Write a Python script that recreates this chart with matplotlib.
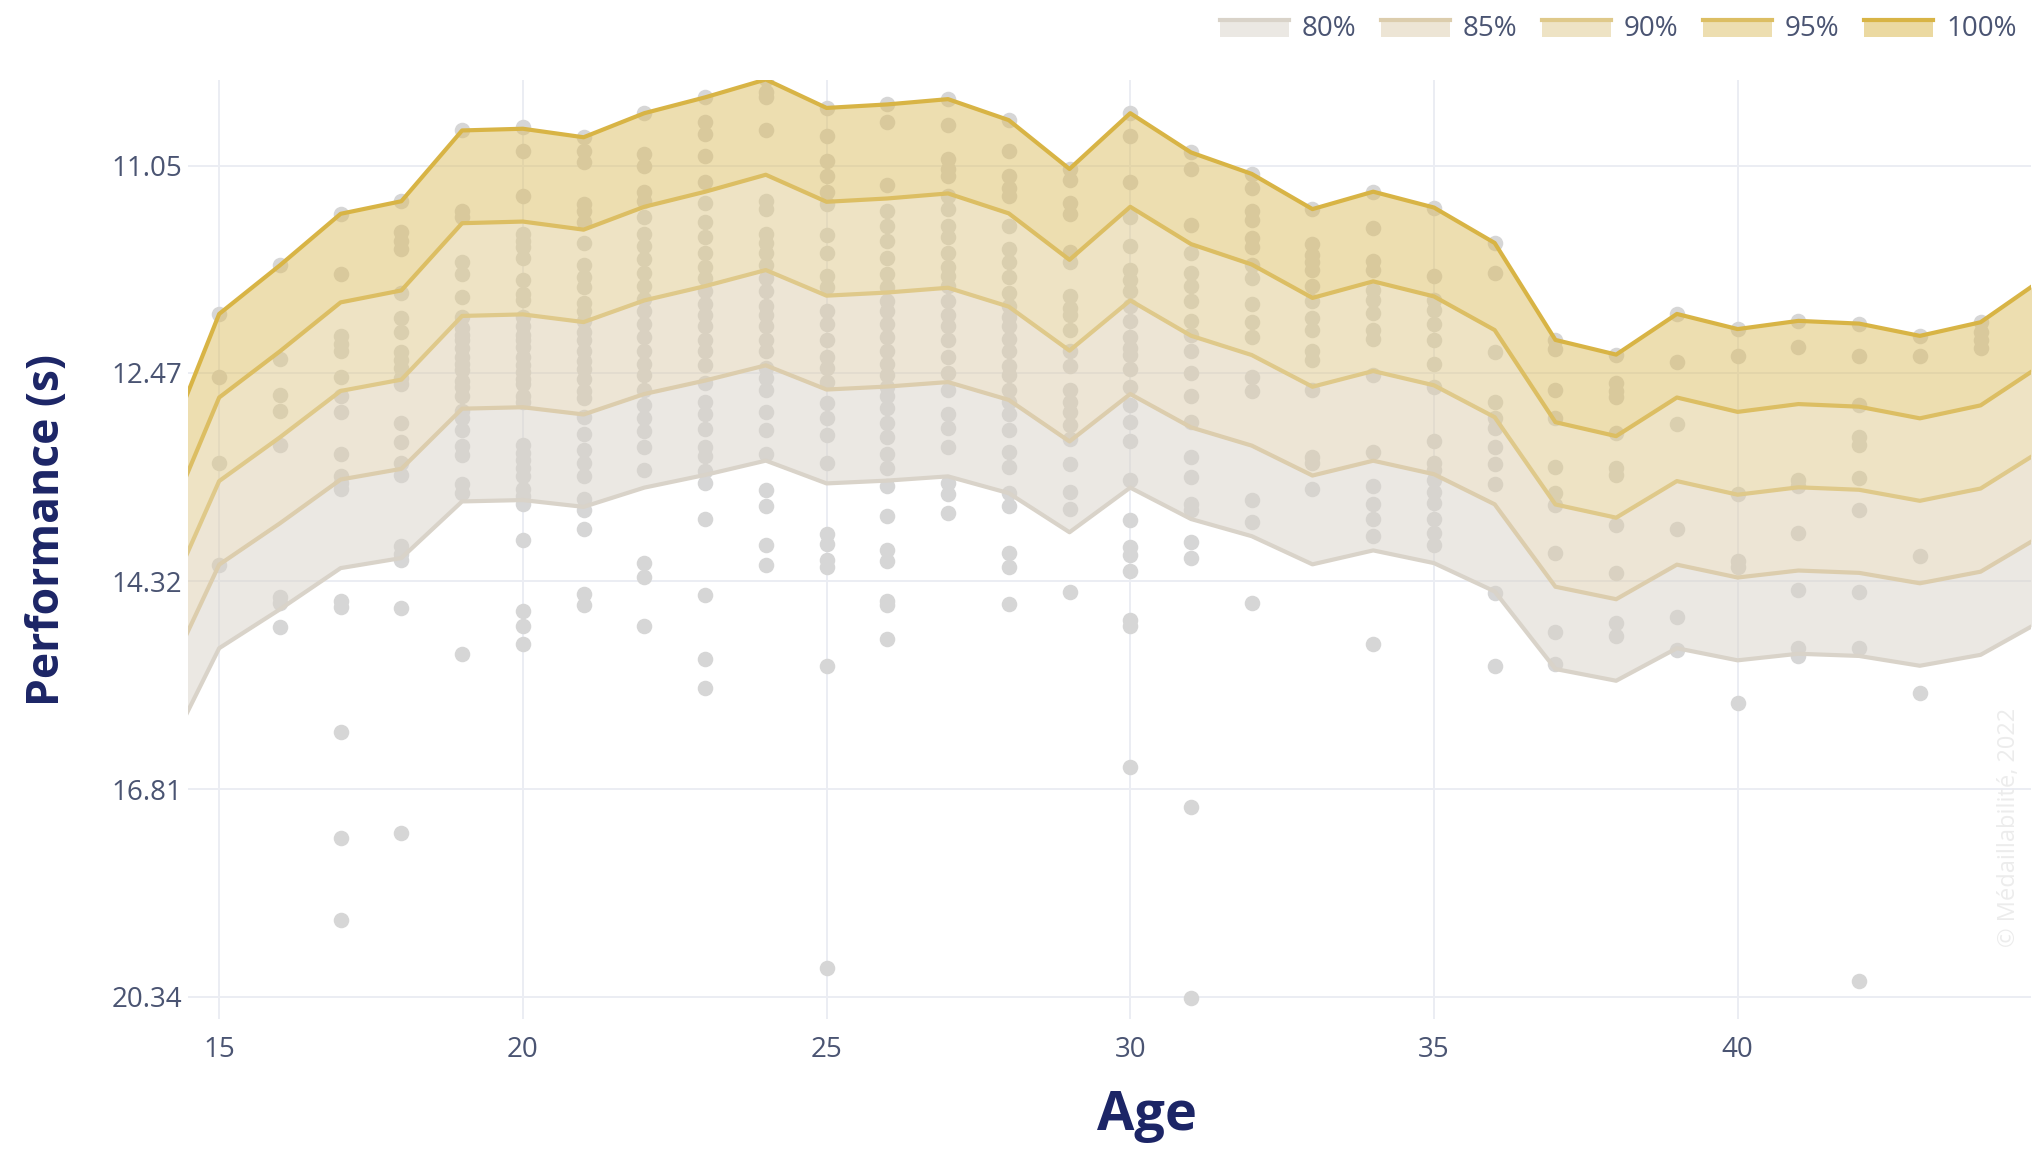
import numpy as np
import matplotlib.pyplot as plt
from matplotlib.patches import Rectangle
from matplotlib.lines import Line2D

plt.rcParams['font.family'] = ['Open Sans', 'DejaVu Sans']

# Meilleure performance (ligne 100 %) par âge, en secondes
ages = list(range(14, 46))
best_times = [13.24, 12.03, 11.69, 11.35, 11.27, 10.84, 10.83, 10.88, 10.74, 10.65,
              10.55, 10.71, 10.69, 10.66, 10.78, 11.07, 10.74, 10.97, 11.10, 11.32,
              11.21, 11.31, 11.54, 12.22, 12.33, 12.03, 12.14, 12.08, 12.10, 12.19,
              12.09, 11.79]

# Niveaux de performance (% de la meilleure vitesse)
levels = [80, 85, 90, 95, 100]
level_labels = ['80%', '85%', '90%', '95%', '100%']
level_colors = ['#d9d3c9', '#dccdad', '#dfc98a', '#dcbe63', '#d8b445']

# Axe des performances (s)
ytick_times = [11.05, 12.47, 14.32, 16.81, 20.34]
xtick_ages = [15, 20, 25, 30, 35, 40]

# Performances individuelles par âge (s)
performances = {
    15: [12.03, 12.50, 13.21, 14.16],
    16: [11.69, 12.36, 12.64, 12.77, 13.05, 14.48, 14.55, 14.80],
    17: [11.35, 11.75, 12.19, 12.25, 12.30, 12.50, 12.65, 12.78, 13.13, 13.32, 13.38,
         13.44, 14.52, 14.59, 16.04, 17.53, 18.88],
    18: [11.27, 11.47, 11.53, 11.58, 11.88, 12.06, 12.16, 12.31, 12.37, 12.43, 12.51,
         12.56, 12.87, 13.03, 13.21, 13.31, 13.97, 14.05, 14.11, 14.60, 17.45],
    19: [10.84, 11.33, 11.37, 11.67, 11.75, 11.91, 12.05, 12.13, 12.18, 12.22, 12.28,
         12.35, 12.40, 12.45, 12.53, 12.58, 12.65, 12.77, 12.83, 12.93, 13.06, 13.14,
         13.39, 13.47, 15.10],
    20: [10.82, 10.96, 11.24, 11.48, 11.53, 11.57, 11.64, 11.79, 11.89, 11.93, 12.05,
         12.12, 12.18, 12.22, 12.27, 12.35, 12.41, 12.46, 12.52, 12.56, 12.65, 12.70,
         13.05, 13.12, 13.18, 13.25, 13.32, 13.44, 13.50, 13.57, 13.91, 14.63, 14.79,
         14.99],
    21: [10.88, 10.96, 11.03, 11.29, 11.33, 11.40, 11.54, 11.69, 11.77, 11.84, 11.95,
         12.01, 12.08, 12.16, 12.22, 12.30, 12.38, 12.44, 12.52, 12.61, 12.67, 12.82,
         12.96, 13.10, 13.21, 13.32, 13.53, 13.63, 13.81, 14.45, 14.57],
    22: [10.74, 10.98, 11.05, 11.21, 11.27, 11.37, 11.48, 11.56, 11.65, 11.74, 11.83,
         11.92, 12.01, 12.10, 12.20, 12.30, 12.40, 12.49, 12.60, 12.72, 12.83, 12.94,
         13.07, 13.27, 14.14, 14.28, 14.79],
    23: [10.65, 10.79, 10.86, 10.99, 11.15, 11.28, 11.40, 11.50, 11.61, 11.70, 11.78,
         11.87, 11.96, 12.04, 12.12, 12.22, 12.30, 12.41, 12.55, 12.70, 12.80, 12.92,
         13.07, 13.15, 13.28, 13.38, 13.71, 14.46, 15.16, 15.50],
    24: [10.55, 10.62, 10.65, 10.84, 11.27, 11.32, 11.48, 11.54, 11.61, 11.69, 11.78,
         11.87, 11.97, 12.04, 12.12, 12.22, 12.30, 12.43, 12.51, 12.60, 12.78, 12.93,
         13.13, 13.45, 13.59, 13.96, 14.16],
    25: [10.71, 10.87, 11.02, 11.11, 11.21, 11.29, 11.49, 11.61, 11.76, 11.84, 12.01,
         12.10, 12.22, 12.35, 12.43, 12.54, 12.71, 12.83, 12.97, 13.21, 13.85, 13.95,
         14.11, 14.18, 15.24, 19.77],
    26: [10.69, 10.79, 11.17, 11.33, 11.43, 11.53, 11.64, 11.75, 11.84, 11.94, 12.01,
         12.10, 12.20, 12.30, 12.40, 12.49, 12.58, 12.65, 12.75, 12.87, 12.99, 13.13,
         13.25, 13.41, 13.68, 14.01, 14.12, 14.52, 14.57, 14.93],
    27: [10.66, 10.81, 11.01, 11.07, 11.11, 11.24, 11.32, 11.43, 11.50, 11.61, 11.70,
         11.76, 11.83, 11.94, 12.04, 12.12, 12.22, 12.35, 12.47, 12.60, 12.80, 12.91,
         13.07, 13.38, 13.48, 13.66],
    28: [10.78, 10.96, 11.11, 11.19, 11.24, 11.43, 11.58, 11.67, 11.77, 11.88, 11.97,
         12.05, 12.12, 12.21, 12.30, 12.42, 12.49, 12.60, 12.70, 12.80, 12.93, 13.11,
         13.24, 13.47, 13.59, 14.04, 14.18, 14.56],
    29: [11.07, 11.14, 11.28, 11.35, 11.60, 11.67, 11.90, 11.99, 12.04, 12.15, 12.30,
         12.42, 12.60, 12.70, 12.78, 12.89, 13.00, 13.22, 13.46, 13.62, 14.43],
    30: [10.74, 10.87, 11.15, 11.37, 11.56, 11.72, 11.79, 11.87, 11.97, 12.08, 12.20,
         12.28, 12.33, 12.44, 12.58, 12.72, 12.86, 13.02, 13.36, 13.72, 13.98, 14.06,
         14.22, 14.73, 14.79, 16.50],
    31: [10.97, 11.07, 11.42, 11.61, 11.74, 11.83, 11.94, 12.08, 12.18, 12.30, 12.47,
         12.65, 12.86, 13.16, 13.33, 13.57, 13.63, 13.93, 14.09, 17.07, 20.37],
    32: [11.10, 11.19, 11.33, 11.39, 11.51, 11.57, 11.69, 11.78, 11.96, 12.09, 12.20,
         12.50, 12.61, 13.54, 13.74, 14.55],
    33: [11.32, 11.55, 11.62, 11.67, 11.72, 11.83, 11.94, 12.06, 12.15, 12.30, 12.37,
         12.60, 13.16, 13.21, 13.44],
    34: [11.21, 11.44, 11.66, 11.72, 11.86, 11.93, 12.02, 12.15, 12.21, 12.49, 13.11,
         13.41, 13.57, 13.71, 13.87, 14.99],
    35: [11.31, 11.76, 11.93, 12.00, 12.10, 12.22, 12.40, 12.58, 13.02, 13.21, 13.27,
         13.36, 13.46, 13.56, 13.71, 13.84, 13.96],
    36: [11.54, 11.74, 12.31, 12.70, 12.83, 12.91, 13.07, 13.22, 13.39, 14.44, 15.24],
    37: [12.22, 12.29, 12.60, 12.83, 13.24, 13.47, 13.58, 14.04, 14.86, 15.22],
    38: [12.33, 12.55, 12.61, 12.66, 12.95, 13.25, 13.31, 13.77, 14.24, 14.76, 14.90],
    39: [12.03, 12.39, 12.88, 13.81, 14.69, 15.06],
    40: [12.14, 12.34, 13.48, 14.12, 14.18, 15.68],
    41: [12.08, 12.27, 13.36, 13.41, 13.84, 14.41, 15.04, 15.12],
    42: [12.10, 12.34, 12.72, 12.99, 13.05, 13.34, 13.63, 14.43, 15.04, 20.03],
    43: [12.19, 12.34, 14.07, 15.56],
    44: [12.09, 12.16, 12.22, 12.28],
}

W, H = 2035, 1152
fig = plt.figure(figsize=(W / 100, H / 100), dpi=100)
ax = fig.add_axes([188 / W, 1 - 1019 / H, (2031 - 188) / W, (1019 - 80) / H])

# l'axe vertical est linéaire en vitesse (100 m / temps)
best_speed = 100 / np.array(best_times)
level_speeds = [p / 100 * best_speed for p in levels]

dot_x, dot_y = [], []
for age, times in performances.items():
    for t in times:
        dot_x.append(age)
        dot_y.append(100 / t)
ax.scatter(dot_x, dot_y, s=125, color='#d6d6d6', linewidths=0, zorder=1)

for i in range(len(levels) - 1):
    ax.fill_between(ages, level_speeds[i], level_speeds[i + 1],
                    color=level_colors[i], alpha=0.5, lw=0, zorder=2)
for spd, col in zip(level_speeds, level_colors):
    ax.plot(ages, spd, color=col, lw=3.0, solid_joinstyle='round', zorder=3)

ax.set_xlim(14.487, 44.83)
ax.set_ylim(4.806, 9.476)
ax.set_xticks(xtick_ages)
ax.set_yticks([100 / t for t in ytick_times])
ax.set_yticklabels([f'{t:.2f}' for t in ytick_times])
ax.tick_params(length=0, labelsize=20, colors='#4a5472')
ax.tick_params(axis='x', pad=12)
ax.tick_params(axis='y', pad=4)
ax.grid(True, color='#ebedf3', lw=1.4)
ax.set_axisbelow(True)
for s in ax.spines.values():
    s.set_visible(False)

fig.text(47 / W, 1 - 530 / H, 'Performance (s)', rotation=90, fontsize=32,
         fontweight='bold', color='#1c2566', ha='center', va='center')
fig.text(1147 / W, 1 - 1116 / H, 'Age', fontsize=39, fontweight='bold',
         color='#1c2566', ha='center', va='center')

# légende horizontale en haut à droite
for i, (lab, col) in enumerate(zip(level_labels, level_colors)):
    x0 = 1220 + i * 161
    fig.add_artist(Rectangle((x0 / W, 1 - 37 / H), 69 / W, 18 / H,
                             transform=fig.transFigure, facecolor=col, alpha=0.5,
                             edgecolor='none'))
    fig.add_artist(Line2D([x0 / W, (x0 + 69) / W], [1 - 20 / H, 1 - 20 / H],
                          transform=fig.transFigure, color=col, lw=3))
    fig.text((x0 + 82) / W, 1 - 29 / H, lab, fontsize=20, color='#4a5472',
             ha='left', va='center')

fig.text(2009 / W, 1 - 827 / H, '© Médaillabilité, 2022', rotation=90, fontsize=17,
         color='#ececec', ha='center', va='center')

fig.savefig('out.png', dpi=100)
